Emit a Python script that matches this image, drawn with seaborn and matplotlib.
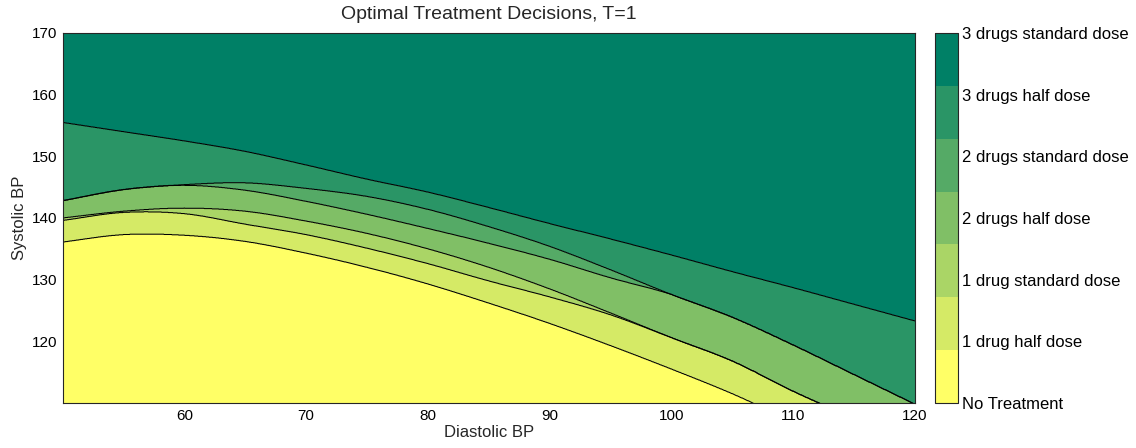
import numpy as np
import matplotlib
matplotlib.use("Agg")
import matplotlib.pyplot as plt
import seaborn as sns
from matplotlib.colors import ListedColormap, Normalize
from matplotlib.cm import ScalarMappable

# Diastolic blood pressure positions at which each decision boundary is given
diastolic = [50, 55, 60, 65, 70, 75, 80, 85, 90, 95, 100, 105, 110, 115, 120]

# Systolic BP of each boundary between consecutive treatment decisions
edge_none_to_1half = [136.1, 137.3, 137.2, 136.2, 134.3, 132.0, 129.3, 126.2, 122.9, 119.3, 115.5, 111.5, 107.0, 103.0, 98.6]
edge_1half_to_1std = [139.6, 140.9, 140.7, 139.0, 137.3, 135.1, 132.6, 129.8, 127.2, 124.3, 120.6, 116.8, 111.9, 107.4, 102.2]
edge_1std_to_2half = [140.0, 141.1, 141.6, 141.1, 139.5, 137.5, 135.0, 132.0, 128.5, 124.6, 120.6, 116.8, 111.9, 107.4, 102.2]
edge_2half_to_2std = [142.8, 144.6, 145.3, 144.5, 142.7, 140.6, 138.3, 135.9, 133.3, 130.3, 127.6, 123.9, 119.4, 114.6, 109.8]
edge_2std_to_3half = [142.8, 144.6, 145.4, 145.7, 144.8, 143.5, 141.4, 138.6, 135.4, 131.6, 127.6, 123.9, 119.4, 114.6, 109.8]
edge_3half_to_3std = [155.5, 154.0, 152.5, 150.8, 148.6, 146.3, 144.2, 141.7, 139.1, 136.6, 134.0, 131.3, 128.7, 126.0, 123.3]

decision_labels = [
    "No Treatment",
    "1 drug half dose",
    "1 drug standard dose",
    "2 drugs half dose",
    "2 drugs standard dose",
    "3 drugs half dose",
    "3 drugs standard dose",
]


def catmull_rom(xs, ys, xq):
    """Smooth curve through evenly spaced knots (xs, ys), evaluated at xq."""
    xs = np.asarray(xs, float)
    ys = np.asarray(ys, float)
    h = xs[1] - xs[0]
    ext = np.concatenate([[2 * ys[0] - ys[1]], ys, [2 * ys[-1] - ys[-2]]])
    pos = np.clip((xq - xs[0]) / h, 0, len(xs) - 1 - 1e-9)
    i = np.floor(pos).astype(int)
    t = pos - i
    p0, p1, p2, p3 = ext[i], ext[i + 1], ext[i + 2], ext[i + 3]
    return 0.5 * (2 * p1 + (-p0 + p2) * t
                  + (2 * p0 - 5 * p1 + 4 * p2 - p3) * t ** 2
                  + (-p0 + 3 * p1 - 3 * p2 + p3) * t ** 3)


sns.set_theme(style="white")
plt.rcParams["font.family"] = ["Liberation Sans", "DejaVu Sans"]
plt.rcParams["font.size"] = 11

cmap = matplotlib.colormaps["summer_r"].resampled(len(decision_labels))
colors = [cmap(i) for i in range(len(decision_labels))]

gx = np.linspace(50, 120, 1401)
gy = np.linspace(105, 175, 1401)
X, Y = np.meshgrid(gx, gy)
edges = [edge_none_to_1half, edge_1half_to_1std, edge_1std_to_2half,
         edge_2half_to_2std, edge_2std_to_3half, edge_3half_to_3std]

# Smooth boundary curves; a band that pinches out is built as the boundary above
# it minus a smooth, non-negative width, so the two edges merge cleanly
curves = [catmull_rom(diastolic, e, gx) for e in edges]
for k in range(len(edges) - 2, -1, -1):
    width = np.subtract(edges[k + 1], edges[k])
    if width.min() <= 0:
        curves[k] = curves[k + 1] - np.maximum(catmull_rom(diastolic, width, gx), 0.0)
    else:
        curves[k] = np.minimum(curves[k], curves[k + 1])

# Decision field: number of boundaries lying below each grid point
Z = np.zeros_like(X)
for c in curves:
    Z += (Y > c[None, :]).astype(float)

W, H = 1136, 448
fig = plt.figure(figsize=(W / 100, H / 100), dpi=100)
ax = fig.add_axes([62.5 / W, 45 / H, (915 - 62.5) / W, 370 / H])
cax = fig.add_axes([935 / W, 45 / H, 23 / W, 370 / H])

levels = np.arange(-0.5, len(decision_labels))
ax.contourf(X, Y, Z, levels=levels, colors=colors, antialiased=True)
ax.contour(X, Y, Z, levels=np.arange(0.5, len(decision_labels) - 1), colors="black", linewidths=0.75)

ax.set_xlim(50, 120)
ax.set_ylim(110, 170)
ax.set_xticks([60, 70, 80, 90, 100, 110, 120])
ax.set_yticks([120, 130, 140, 150, 160, 170])
ax.tick_params(direction="in", length=6.5, width=0.7, top=True, right=True,
               labelsize=11, pad=4, colors="#262626", labelcolor="black")
for s in ax.spines.values():
    s.set_linewidth(0.8)
    s.set_color("#262626")
ax.set_xlabel("Diastolic BP", fontsize=12, labelpad=2)
ax.set_ylabel("Systolic BP", fontsize=12, labelpad=3)
ax.set_title("Optimal Treatment Decisions, T=1", fontsize=14, pad=10)

sm = ScalarMappable(norm=Normalize(0, len(decision_labels) - 1), cmap=ListedColormap(colors))
cb = fig.colorbar(sm, cax=cax, ticks=range(len(decision_labels)))
cb.set_ticklabels(decision_labels)
cb.outline.set_linewidth(0.8)
cb.outline.set_edgecolor("#262626")
cax.tick_params(axis="y", direction="in", length=3, width=0.7, left=True, right=True,
                labelsize=12, pad=3, colors="#262626", labelcolor="black")

fig.savefig("out.png", dpi=100)
